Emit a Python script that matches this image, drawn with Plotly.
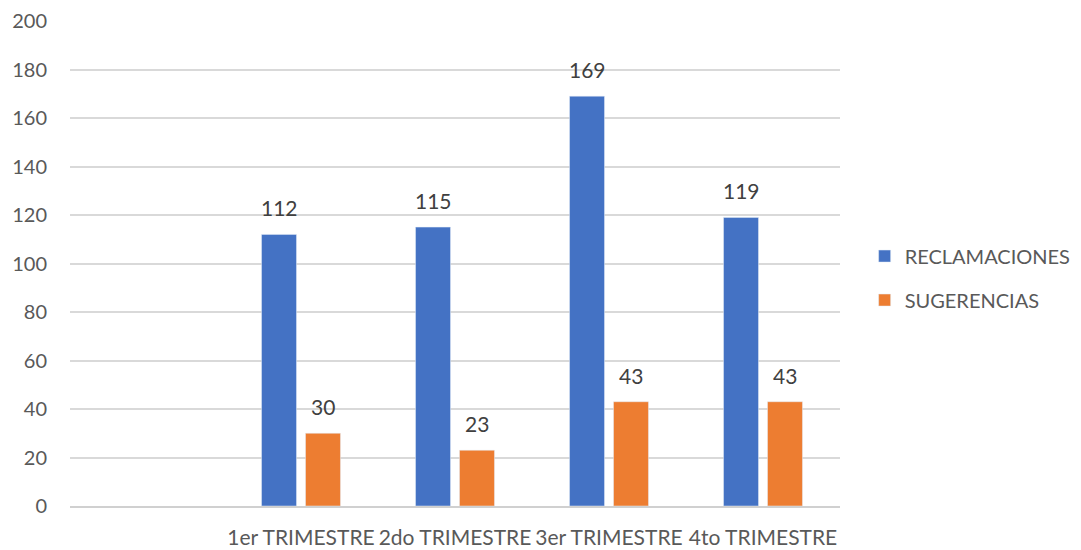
import plotly.graph_objects as go

categories = ["1er TRIMESTRE", "2do TRIMESTRE", "3er TRIMESTRE", "4to TRIMESTRE"]
reclamaciones = [112, 115, 169, 119]
sugerencias = [30, 23, 43, 43]
axis_categories = [" "] + categories  # first slot is empty in the original

font_family = "Lato, 'Open Sans', sans-serif"
text_color = "#595959"
label_color = "#404040"

fig = go.Figure()
fig.add_trace(go.Bar(
    name="RECLAMACIONES", x=categories, y=reclamaciones,
    marker_color="#4472C4", legendgroup="a",
))
fig.add_trace(go.Bar(
    name="SUGERENCIAS", x=categories, y=sugerencias,
    marker_color="#ED7D31", legendgroup="b",
))

# data labels above the bars
for vals, xs in ((reclamaciones, -22), (sugerencias, 22)):
    for c, v in zip(categories, vals):
        fig.add_annotation(x=c, y=v, text=str(v), showarrow=False,
                           xanchor="center", yanchor="bottom", xshift=xs, yshift=12,
                           font=dict(size=21, color=label_color, family=font_family))

fig.update_layout(
    width=1081, height=550,
    margin=dict(l=70, r=241, t=21, b=44, autoexpand=False),
    paper_bgcolor="white", plot_bgcolor="white",
    font=dict(family=font_family, size=20, color=text_color),
    barmode="group", bargap=0.429, bargroupgap=0.2045,
    showlegend=True,
    legend=dict(x=1.032, y=0.47, xanchor="left", yanchor="middle",
                font=dict(size=20, color=text_color),
                tracegroupgap=15, itemwidth=30),
    xaxis=dict(type="category", categoryorder="array", categoryarray=axis_categories,
               range=[-0.5, 4.5], showgrid=False, showline=True, automargin=False,
               linecolor="#D0D0D0", linewidth=1.5, ticks="", ticklabelstandoff=12,
               tickangle=0, tickfont=dict(size=21, color=text_color)),
    yaxis=dict(range=[0, 200], dtick=20, showgrid=True, gridcolor="#D9D9D9", gridwidth=1.5,
               zeroline=False, showline=False, ticks="", ticklabelstandoff=22, automargin=False,
               tickfont=dict(size=20, color=text_color)),
)

fig.write_html("out.html")
